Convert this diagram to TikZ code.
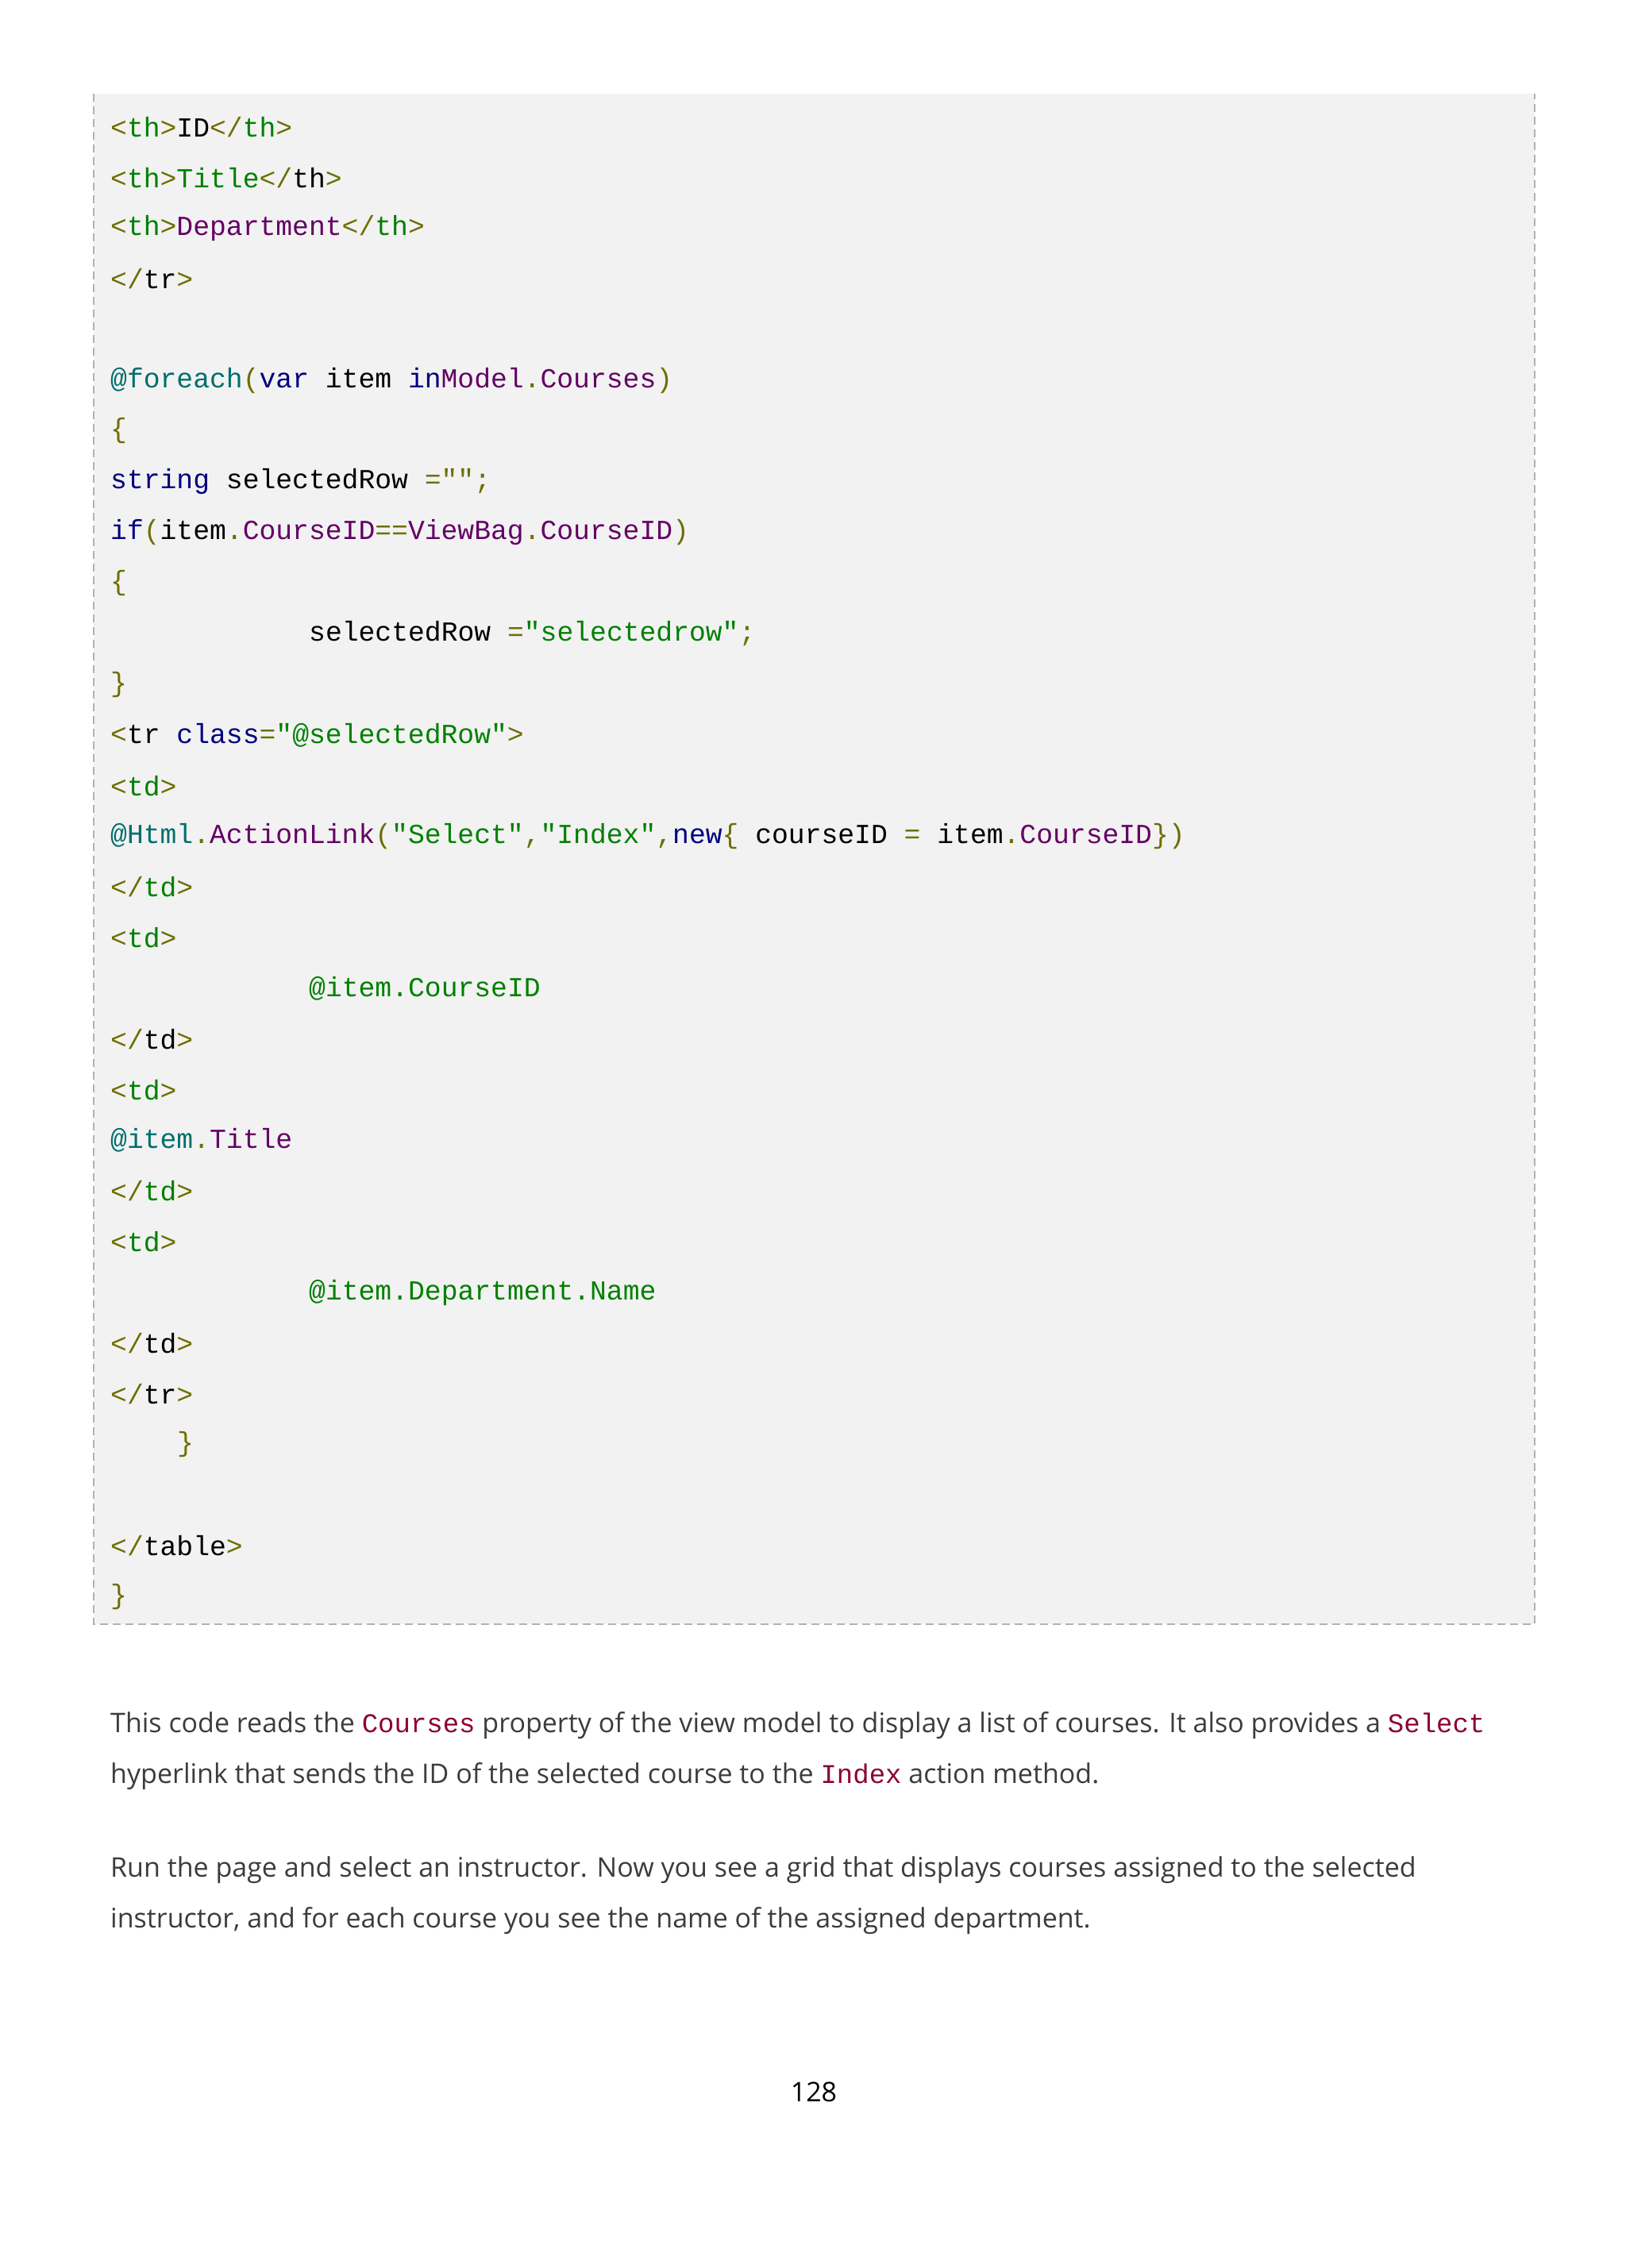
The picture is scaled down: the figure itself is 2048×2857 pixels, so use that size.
\documentclass[tikz,border=0pt]{standalone}
\usepackage{fontspec}
\setmainfont{Open Sans}
\newfontfamily\cmono{Liberation Mono}
\definecolor{cgr}{RGB}{0,128,0}
\definecolor{col}{RGB}{110,110,0}
\definecolor{cpu}{RGB}{100,0,100}
\definecolor{cnv}{RGB}{0,0,128}
\definecolor{ctl}{RGB}{0,110,110}
\definecolor{cic}{RGB}{140,0,50}
\definecolor{bgc}{RGB}{242,242,242}
\definecolor{txt}{RGB}{60,60,60}
\newcommand\cG[1]{\textcolor{cgr}{#1}}
\newcommand\cO[1]{\textcolor{col}{#1}}
\newcommand\cP[1]{\textcolor{cpu}{#1}}
\newcommand\cN[1]{\textcolor{cnv}{#1}}
\newcommand\cT[1]{\textcolor{ctl}{#1}}
\newcommand\cIC[1]{{\cmono\textcolor{cic}{#1}}}
\begin{document}
\begin{tikzpicture}[x=1pt,y=-1pt,
  code/.style={anchor=west,inner sep=0pt,font=\cmono\fontsize{34.7}{40}\selectfont},
  para/.style={anchor=west,inner sep=0pt,font=\fontsize{34}{40}\selectfont,text=txt}]
\useasboundingbox[fill=white] (0,0) rectangle (2048,2857);
\fill[bgc] (118,118) rectangle (1933,2046);
\draw[gray!60,line width=2pt,dash pattern=on 10pt off 6pt] (118,118) -- (118,2046) -- (1933,2046) -- (1933,118);
\def\L#1{160+#1*63.83}
\node[code] (l0) at (139,{\L0}) {\cO{<}\cG{th}\cO{>}ID\cO{</}\cG{th}\cO{>}};
\node[code] (l1) at (139,{\L1}) {\cO{<}\cG{th}\cO{>}\cG{Title}\cO{</}th\cO{>}};
\node[code] (l2) at (139,{\L2}) {\cO{<}\cG{th}\cO{>}\cP{Department}\cO{</}\cG{th}\cO{>}};
\node[code] (l3) at (139,{\L3}) {\cO{</}tr\cO{>}};
\node[code] (l5) at (139,{\L5}) {\cT{@foreach}\cO{(}\cN{var} item \cN{in}\cP{Model}\cO{.}\cP{Courses}\cO{)}};
\node[code] (l6) at (139,{\L6}) {\cO{\{}};
\node[code] (l7) at (139,{\L7}) {\cN{string} selectedRow \cO{=}\cO{"";}};
\node[code] (l8) at (139,{\L8}) {\cN{if}\cO{(}item\cO{.}\cP{CourseID}\cO{==}\cP{ViewBag}\cO{.}\cP{CourseID}\cO{)}};
\node[code] (l9) at (139,{\L9}) {\cO{\{}};
\node[code] (l10) at (389,{\L{10}}) {selectedRow \cO{=}\cG{"selectedrow"}\cO{;}};
\node[code] (l11) at (139,{\L{11}}) {\cO{\}}};
\node[code] (l12) at (139,{\L{12}}) {\cO{<}tr \cN{class}\cO{=}\cG{"@selectedRow"}\cO{>}};
\node[code] (l13) at (139,{\L{13}}) {\cO{<}\cG{td}\cO{>}};
\node[code] (l14) at (139,{\L{14}}) {\cT{@Html}\cO{.}\cP{ActionLink}\cO{(}\cG{"Select"}\cO{,}\cG{"Index"}\cO{,}\cN{new}\cO{\{} courseID \cO{=} item\cO{.}\cP{CourseID}\cO{\})}};
\node[code] (l15) at (139,{\L{15}}) {\cO{</}\cG{td}\cO{>}};
\node[code] (l16) at (139,{\L{16}}) {\cO{<}\cG{td}\cO{>}};
\node[code] (l17) at (389,{\L{17}}) {\cG{@item.CourseID}};
\node[code] (l18) at (139,{\L{18}}) {\cO{</}td\cO{>}};
\node[code] (l19) at (139,{\L{19}}) {\cO{<}\cG{td}\cO{>}};
\node[code] (l20) at (139,{\L{20}}) {\cT{@item}\cO{.}\cP{Title}};
\node[code] (l21) at (139,{\L{21}}) {\cO{</}\cG{td}\cO{>}};
\node[code] (l22) at (139,{\L{22}}) {\cO{<}\cG{td}\cO{>}};
\node[code] (l23) at (389,{\L{23}}) {\cG{@item.Department.Name}};
\node[code] (l24) at (139,{\L{24}}) {\cO{</}td\cO{>}};
\node[code] (l25) at (139,{\L{25}}) {\cO{</}tr\cO{>}};
\node[code] (l26) at (223,{\L{26}}) {\cO{\}}};
\node[code] (l28) at (139,{\L{28}}) {\cO{</}table\cO{>}};
\node[code] (l29) at (139,{\L{29}}) {\cO{\}}};
\node[para] (p1) at (139,2174) {This code reads the \cIC{Courses} property of the view model to display a list of courses. It also provides a \cIC{Select}};
\node[para] (p2) at (139,2238) {hyperlink that sends the ID of the selected course to the \cIC{Index} action method.};
\node[para] (p3) at (139,2356) {Run the page and select an instructor. Now you see a grid that displays courses assigned to the selected};
\node[para] (p4) at (139,2420) {instructor, and for each course you see the name of the assigned department.};
\node[para,anchor=center,text=black] (pg) at (1025,2635) {128};
\end{tikzpicture}
\end{document}
